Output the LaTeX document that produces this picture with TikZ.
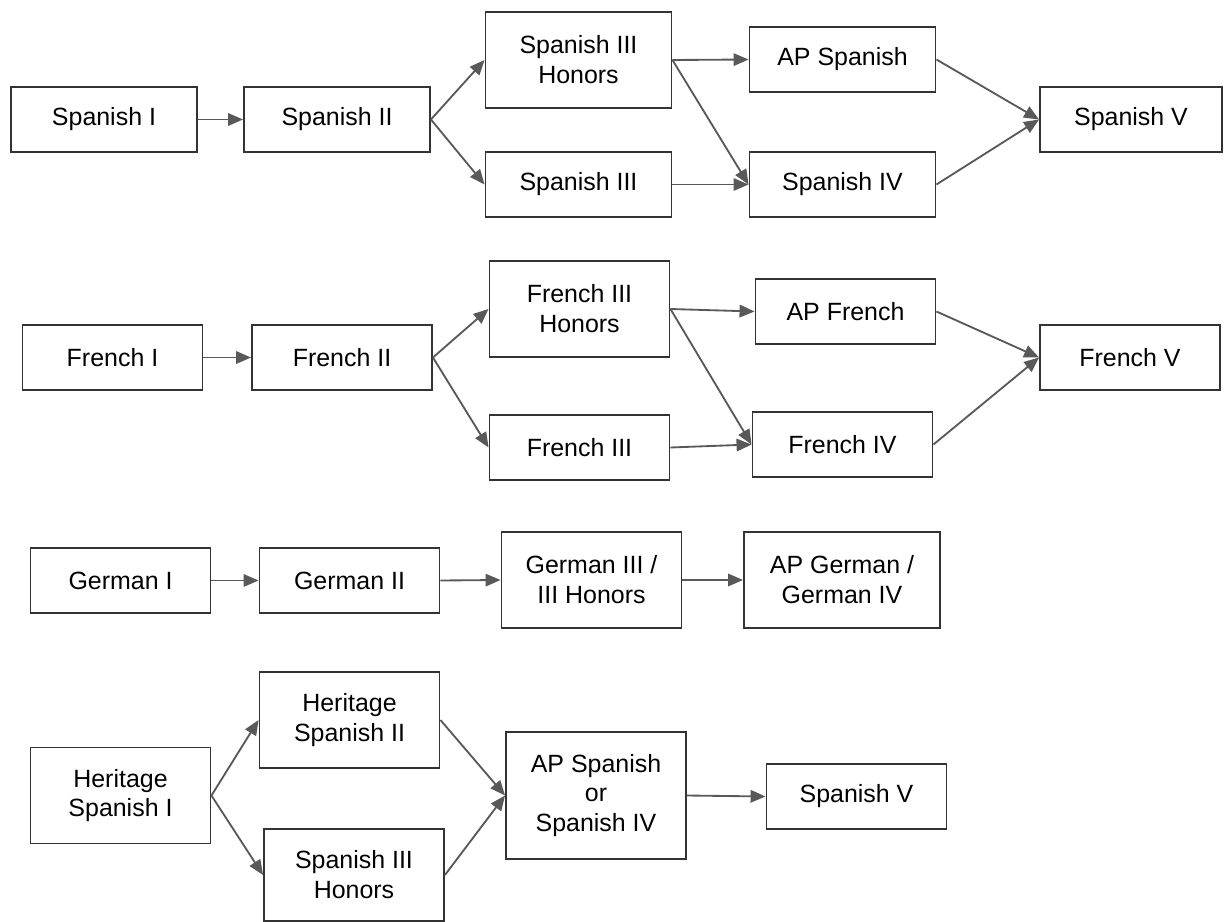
\documentclass[tikz,border=0pt]{standalone}
\usepackage{fontspec}
\setmainfont{Liberation Sans}
\usetikzlibrary{arrows.meta}
\definecolor{boxline}{HTML}{333333}
\definecolor{arrowline}{HTML}{595959}
\tikzset{
  course/.style={draw=boxline,line width=1.1pt,minimum width=3.6cm,minimum height=1.3cm,
    align=center,inner sep=2pt,font=\fontsize{14.2}{17}\selectfont},
  tall/.style={minimum height=1.92cm},
  wide/.style={minimum width=3.72cm},
  leads/.style={draw=arrowline,line width=1.05pt,-{Triangle[length=0.3cm,width=0.25cm]}}
}
\begin{document}
\begin{tikzpicture}[x=0.02cm,y=-0.02cm]
\useasboundingbox (0,0) rectangle (1224,922);
\node[course,wide] (sp1) at (104,119.5) {Spanish I};
\node[course,wide] (sp2) at (337,119.5) {Spanish II};
\node[course,wide,tall] (sp3h) at (578.5,60) {Spanish III\\Honors};
\node[course,wide] (sp3) at (578.5,184.5) {Spanish III};
\node[course,wide] (apsp) at (842.5,59.5) {AP Spanish};
\node[course,wide] (sp4) at (842.5,184.5) {Spanish IV};
\node[course,minimum width=3.64cm] (sp5) at (1131,119.5) {Spanish V};
\draw[leads] (sp1.east) -- (sp2.west);
\draw[leads] (sp2.east) -- (sp3h.west);
\draw[leads] (sp2.east) -- (sp3.west);
\draw[leads] (sp3h.east) -- (apsp.west);
\draw[leads] (sp3h.east) -- (sp4.west);
\draw[leads] (sp3.east) -- (sp4.west);
\draw[leads] (apsp.east) -- (sp5.west);
\draw[leads] (sp4.east) -- (sp5.west);
\node[course] (fr1) at (112.5,357.5) {French I};
\node[course] (fr2) at (342,357.5) {French II};
\node[course,tall] (fr3h) at (579.5,309) {French III\\Honors};
\node[course] (fr3) at (579.5,447.5) {French III};
\node[course] (apfr) at (845.5,311.5) {AP French};
\node[course] (fr4) at (842.5,444.5) {French IV};
\node[course] (fr5) at (1130,357.5) {French V};
\draw[leads] (fr1.east) -- (fr2.west);
\draw[leads] (fr2.east) -- (fr3h.west);
\draw[leads] (fr2.east) -- (fr3.west);
\draw[leads] (fr3h.east) -- (apfr.west);
\draw[leads] (fr3h.east) -- (fr4.west);
\draw[leads] (fr3.east) -- (fr4.west);
\draw[leads] (apfr.east) -- (fr5.west);
\draw[leads] (fr4.east) -- (fr5.west);
\node[course] (ge1) at (120.5,580.5) {German I};
\node[course] (ge2) at (349.5,580.5) {German II};
\node[course,tall] (ge3) at (591.5,580) {German III /\\III Honors};
\node[course,tall,minimum width=3.92cm] (apge) at (842,580) {AP German /\\German IV};
\draw[leads] (ge1.east) -- (ge2.west);
\draw[leads] (ge2.east) -- (ge3.west);
\draw[leads] (ge3.east) -- (apge.west);
\node[course,tall] (hs1) at (120.5,795.5) {Heritage\\Spanish I};
\node[course,tall] (hs2) at (349.5,720) {Heritage\\Spanish II};
\node[course,minimum height=1.84cm] (hsp3h) at (354,875) {Spanish III\\Honors};
\node[course,minimum height=2.54cm] (apsp4) at (596,795.5) {AP Spanish\\or\\Spanish IV};
\node[course] (hsp5) at (856.5,796.5) {Spanish V};
\draw[leads] (hs1.east) -- (hs2.west);
\draw[leads] (hs1.east) -- (hsp3h.west);
\draw[leads] (hs2.east) -- (apsp4.west);
\draw[leads] (hsp3h.east) -- (apsp4.west);
\draw[leads] (apsp4.east) -- (hsp5.west);
\end{tikzpicture}
\end{document}
